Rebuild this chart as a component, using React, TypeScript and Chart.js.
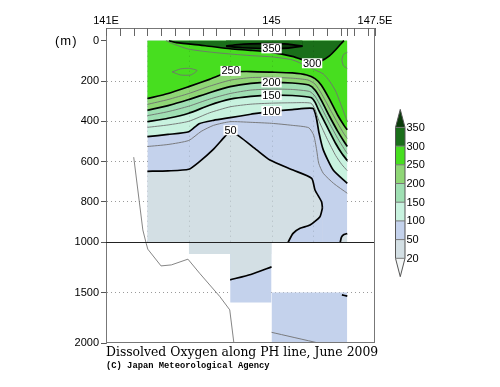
import React, { useEffect, useRef } from 'react';
import { Chart, registerables } from 'chart.js';

Chart.register(...registerables);

type P = [number, number]; // [longitude °E, depth m]

// ---------- axes ----------
const LON_MIN = 141;
const LON_MAX = 147.5;
const xTickLons = [141, 145, 147.5];
const xTickLabels = ['141E', '145', '147.5E'];
const minorTickLons = [
  141, 141.333, 141.667, 142, 142.333, 142.667, 143, 143.333, 143.667, 144, 144.333, 144.667,
  145, 145.333, 145.667, 146, 146.333, 146.667, 146.83, 147, 147.333, 147.5,
];
const depthTicks = [0, 200, 400, 600, 800, 1000, 1500, 2000];
const dottedDepths = [200, 400, 600, 800, 1500];
const DEPTH_TOP = -63;
const DEPTH_BOTTOM = 2000;
const BREAK_DEPTH = 1000;
const stationLons = [142, 143, 144, 145, 146];

// the vertical axis is compressed by half below 1000 m
const T = (d: number) => (d <= BREAK_DEPTH ? d : BREAK_DEPTH + (d - BREAK_DEPTH) / 2);
const Tinv = (v: number) => (v <= BREAK_DEPTH ? v : BREAK_DEPTH + (v - BREAK_DEPTH) * 2);

// ---------- colour scale ----------
const levels = [20, 50, 100, 150, 200, 250, 300, 350];
const bandColors = [
  '#f4f7f7', // < 20
  '#d3dfe4', // 20-50
  '#c4d2ec', // 50-100
  '#c8f2df', // 100-150
  '#9fdfb3', // 150-200
  '#8fd676', // 200-250
  '#47de1f', // 250-300
  '#1a6f1a', // 300-350
  '#0b3b0b', // > 350
];

// ---------- sampled areas ----------
const areaUpper: P[] = [[142, 1000], [146.83, 1000]];
const areaMidBlue: P[] = [[144, 1597], [145, 1597]];
const areaDeepBlue: P[] = [[145, 2000], [146.83, 2000]];
const areaMidGray: P[] = [[143, 1116], [145, 1116]];

// ---------- contours (µmol/kg) ----------
const c50Upper: P[] = [
  [142.0, 648], [142.5, 646], [143.0, 638], [143.26, 600], [143.58, 542], [143.87, 476], [144.0, 450],
  [144.23, 476], [144.64, 542], [144.96, 592], [145.52, 642], [145.97, 683], [146.05, 741], [146.21, 800], [146.23, 830],
];
const c50Lower: P[] = [[145.4, 1000], [145.52, 956], [145.69, 931], [145.93, 915], [146.17, 873], [146.23, 830]];
const c50Corner: P[] = [[146.66, 1000], [146.69, 975], [146.75, 962], [146.83, 957]];
const c50Deep: P[] = [[144, 1373], [144.5, 1320], [145, 1245]];
const c50Edge: P[] = [[146.7, 1522], [146.83, 1535]];
const c75: P[] = [
  [142.0, 525], [142.5, 515], [143.0, 495], [143.3, 450], [143.6, 420], [144.0, 402], [144.5, 405], [145.0, 410],
  [145.5, 420], [145.9, 432], [146.02, 470], [146.09, 542], [146.14, 608], [146.25, 658], [146.5, 708], [146.83, 757],
];
const c75Deep: P[] = [[145, 1894], [146.13, 2000]];
const c100: P[] = [
  [142.0, 476], [142.5, 465], [143.0, 452], [143.25, 412], [143.6, 395], [144.0, 382], [144.5, 365], [145.0, 349],
  [145.5, 342], [146.0, 336], [146.08, 380], [146.15, 460], [146.25, 542], [146.49, 642], [146.83, 708],
];
const c125: P[] = [
  [142.0, 430], [142.5, 418], [143.0, 400], [143.5, 358], [144.0, 328], [144.5, 315], [145.0, 310], [145.5, 308],
  [145.95, 310], [146.05, 340], [146.15, 400], [146.35, 490], [146.55, 570], [146.7, 615], [146.83, 645],
];
const c150: P[] = [
  [142.0, 402], [142.5, 385], [143.0, 360], [143.5, 320], [144.0, 290], [144.5, 276], [145.0, 270], [145.5, 272],
  [145.95, 282], [146.05, 305], [146.15, 350], [146.35, 430], [146.55, 510], [146.7, 560], [146.83, 595],
];
const c175: P[] = [
  [142.0, 372], [142.5, 352], [143.0, 325], [143.5, 290], [144.0, 262], [144.5, 245], [145.0, 240], [145.5, 242],
  [145.92, 252], [146.05, 275], [146.2, 330], [146.4, 410], [146.6, 485], [146.75, 535], [146.83, 560],
];
const c200: P[] = [
  [142.0, 345], [142.5, 322], [143.0, 292], [143.5, 258], [144.0, 228], [144.5, 212], [145.0, 207], [145.5, 210],
  [145.9, 220], [146.05, 245], [146.2, 295], [146.4, 375], [146.6, 450], [146.75, 500], [146.83, 525],
];
const c225: P[] = [
  [142.0, 316], [142.5, 292], [143.0, 262], [143.5, 226], [144.0, 196], [144.5, 183], [145.0, 182], [145.5, 186],
  [145.88, 195], [146.05, 215], [146.2, 260], [146.4, 335], [146.6, 410], [146.75, 462], [146.83, 485],
];
const c250: P[] = [
  [142.0, 287], [142.5, 262], [143.0, 228], [143.5, 192], [143.8, 168], [144.0, 155], [144.5, 153], [145.0, 156],
  [145.5, 160], [145.85, 170], [146.05, 188], [146.2, 220], [146.4, 290], [146.6, 370], [146.75, 420], [146.83, 442],
];
const c275: P[] = [
  [142.45, 0], [142.65, 18], [143.0, 42], [143.5, 56], [144.0, 66], [144.5, 74], [145.0, 80], [145.5, 95],
  [145.85, 125], [146.05, 145], [146.25, 165], [146.4, 200], [146.55, 250], [146.7, 330], [146.83, 400],
];
const c275Ring: P[] = [[142.6, 155], [142.8, 140], [143.0, 137], [143.2, 148], [143.05, 170], [142.8, 170], [142.6, 155]];
const c275EdgeRing: P[] = [[146.83, 58], [146.74, 68], [146.7, 95], [146.74, 125], [146.83, 138]];
const c300: P[] = [
  [142.52, 0], [142.7, 10], [143.4, 25], [144.0, 40], [144.5, 48], [145.0, 58], [145.5, 78], [145.8, 98],
  [145.98, 110], [146.2, 100], [146.4, 75], [146.55, 45], [146.68, 15], [146.75, 0],
];
const c350Upper: P[] = [[143.9, 27], [144.2, 19], [144.8, 15], [145.4, 17], [145.75, 27]];
const c350Lower: P[] = [[143.9, 27], [144.3, 35], [145.0, 39], [145.4, 37], [145.75, 27]];

// sea-bottom line
const topography: P[] = [
  [141.67, 578], [141.89, 939], [141.97, 1010], [142.01, 1069], [142.33, 1235], [142.58, 1225],
  [142.98, 1168], [143.26, 1307], [143.75, 1539], [143.99, 1671], [144.09, 2000],
];

// contour labels
const labelTexts = ['350', '300', '250', '200', '150', '100', '50'];
const labelLons = [145.0, 145.98, 144.01, 145.0, 145.0, 145.0, 144.01];
const labelDepths = [38, 112, 150, 207, 270, 349, 444];

const FONT = '"Liberation Sans", Arial, Helvetica, sans-serif';

type Layer = { pts: P[]; fillTo?: number; color?: string; line?: 'thick' | 'thin' | 'topo'; tension?: number };

const layers: Layer[] = [
  { pts: areaUpper, fillTo: 0, color: bandColors[2] },
  { pts: areaMidBlue, fillTo: 1000, color: bandColors[2] },
  { pts: areaDeepBlue, fillTo: 1500, color: bandColors[2] },
  { pts: areaMidGray, fillTo: 1000, color: bandColors[1] },
  { pts: c50Upper, fillTo: 1000, color: bandColors[1], line: 'thick' },
  { pts: c50Lower, fillTo: 1000, color: bandColors[2], line: 'thick' },
  { pts: c50Corner, fillTo: 1000, color: bandColors[1], line: 'thick' },
  { pts: c50Deep, fillTo: 1000, color: bandColors[1], line: 'thick' },
  { pts: c100, fillTo: 0, color: bandColors[3], line: 'thick' },
  { pts: c150, fillTo: 0, color: bandColors[4], line: 'thick' },
  { pts: c200, fillTo: 0, color: bandColors[5], line: 'thick' },
  { pts: c250, fillTo: 0, color: bandColors[6], line: 'thick' },
  { pts: c300, fillTo: 0, color: bandColors[7], line: 'thick' },
  { pts: c350Lower, fillTo: 0, color: bandColors[8], line: 'thick' },
  { pts: c350Upper, fillTo: 0, color: bandColors[7], line: 'thick' },
  { pts: c75, line: 'thin' },
  { pts: c125, line: 'thin' },
  { pts: c175, line: 'thin' },
  { pts: c225, line: 'thin' },
  { pts: c275, line: 'thin' },
  { pts: c275Ring, line: 'thin' },
  { pts: c275EdgeRing, line: 'thin' },
  { pts: c75Deep, line: 'thin' },
  { pts: c50Edge, line: 'thick' },
  { pts: topography, line: 'topo', tension: 0 },
];

const toXY = (pts: P[]) => pts.map(([lon, d]) => ({ x: lon, y: T(d) }));

const overlay = {
  id: 'overlay',
  afterDatasetsDraw(chart: any) {
    const { ctx, chartArea: a, scales } = chart;
    const xs = scales.x;
    const ys = scales.y;
    const px = (lon: number) => xs.getPixelForValue(lon);
    const py = (d: number) => ys.getPixelForValue(T(d));
    ctx.save();

    // station lines (faint dotted)
    ctx.lineWidth = 1;
    ctx.setLineDash([1, 4]);
    ctx.strokeStyle = 'rgba(0,0,0,0.16)';
    stationLons.forEach((lon) => {
      const X = Math.round(px(lon)) + 0.5;
      ctx.beginPath();
      ctx.moveTo(X, py(0));
      ctx.lineTo(X, py(BREAK_DEPTH));
      ctx.stroke();
    });
    ctx.setLineDash([]);

    // axis break line at 1000 m
    ctx.strokeStyle = '#222';
    const yb = Math.round(py(BREAK_DEPTH)) + 0.5;
    ctx.beginPath();
    ctx.moveTo(a.left, yb);
    ctx.lineTo(a.right, yb);
    ctx.stroke();

    // frame (right, bottom)
    ctx.strokeStyle = '#777';
    ctx.beginPath();
    ctx.moveTo(Math.round(a.right) - 0.5, a.top);
    ctx.lineTo(Math.round(a.right) - 0.5, a.bottom);
    ctx.moveTo(a.left, Math.round(py(DEPTH_BOTTOM)) - 0.5);
    ctx.lineTo(a.right, Math.round(py(DEPTH_BOTTOM)) - 0.5);
    ctx.stroke();

    // inward ticks of top axis
    ctx.strokeStyle = '#666';
    minorTickLons.forEach((lon) => {
      const X = Math.round(px(lon)) + 0.5;
      ctx.beginPath();
      ctx.moveTo(X, a.top);
      ctx.lineTo(X, a.top + 8);
      ctx.stroke();
    });

    // contour labels
    ctx.font = `11px ${FONT}`;
    ctx.textAlign = 'center';
    ctx.textBaseline = 'middle';
    labelTexts.forEach((t, i) => {
      const cx = px(labelLons[i]);
      const cy = py(labelDepths[i]);
      const w = ctx.measureText(t).width + 2;
      ctx.fillStyle = '#fff';
      ctx.fillRect(cx - w / 2, cy - 5, w, 10);
      ctx.fillStyle = '#000';
      ctx.fillText(t, cx, cy + 0.5);
    });

    // colour bar
    const bx = a.right + 20.5;
    const bw = 9.5;
    const step = 18.7;
    const y20 = a.top + 230.3;
    const yTop = y20 - step * (levels.length - 1);
    for (let i = 0; i < levels.length - 1; i++) {
      ctx.fillStyle = bandColors[i + 1];
      ctx.fillRect(bx, y20 - step * (i + 1), bw, step);
    }
    ctx.fillStyle = bandColors[bandColors.length - 1];
    ctx.beginPath();
    ctx.moveTo(bx, yTop);
    ctx.lineTo(bx + bw / 2, yTop - 18);
    ctx.lineTo(bx + bw, yTop);
    ctx.closePath();
    ctx.fill();
    ctx.fillStyle = bandColors[0];
    ctx.beginPath();
    ctx.moveTo(bx, y20);
    ctx.lineTo(bx + bw / 2, y20 + 18.4);
    ctx.lineTo(bx + bw, y20);
    ctx.closePath();
    ctx.fill();
    ctx.strokeStyle = '#555';
    ctx.lineWidth = 1;
    ctx.beginPath();
    ctx.moveTo(bx, yTop);
    ctx.lineTo(bx + bw / 2, yTop - 18);
    ctx.lineTo(bx + bw, yTop);
    ctx.lineTo(bx + bw, y20);
    ctx.lineTo(bx + bw / 2, y20 + 18.4);
    ctx.lineTo(bx, y20);
    ctx.closePath();
    ctx.stroke();
    ctx.strokeStyle = '#777';
    levels.forEach((_, i) => {
      const Y = y20 - step * i;
      ctx.beginPath();
      ctx.moveTo(bx, Y);
      ctx.lineTo(bx + bw, Y);
      ctx.stroke();
    });
    ctx.fillStyle = '#000';
    ctx.textAlign = 'left';
    ctx.font = `11px ${FONT}`;
    levels.forEach((lv, i) => {
      ctx.fillText(String(lv), bx + 11, y20 - step * i + 0.5);
    });

    // unit
    ctx.textAlign = 'left';
    ctx.font = `13px ${FONT}`;
    (ctx as any).letterSpacing = '1px';
    ctx.fillText('(m)', 55, py(0) + 0.5);
    ctx.restore();
  },
};

export default function App() {
  const ref = useRef<HTMLCanvasElement | null>(null);

  useEffect(() => {
    if (!ref.current) return;
    const datasets = layers.map((L, i) => ({
      data: toXY(L.pts),
      order: layers.length - i,
      pointRadius: 0,
      pointHoverRadius: 0,
      tension: L.tension ?? (L.line ? 0.2 : 0),
      borderColor: L.line === 'thick' ? '#000' : L.line === 'thin' ? '#707070' : L.line === 'topo' ? '#777' : 'rgba(0,0,0,0)',
      borderWidth: L.line === 'thick' ? 1.7 : L.line ? 0.9 : 0.01,
      backgroundColor: L.color ?? 'rgba(0,0,0,0)',
      fill: L.fillTo !== undefined ? { value: T(L.fillTo) } : false,
    }));

    const chart = new Chart(ref.current, {
      type: 'line',
      data: { datasets },
      plugins: [overlay],
      options: {
        responsive: false,
        animation: false,
        events: [],
        layout: { padding: { left: 0, top: 0, right: 125, bottom: 44 } },
        plugins: { legend: { display: false }, tooltip: { enabled: false }, title: { display: false } },
        scales: {
          x: {
            type: 'linear',
            position: 'top',
            min: LON_MIN,
            max: LON_MAX,
            afterFit: (s: any) => {
              s.height = 28;
            },
            afterBuildTicks: (s: any) => {
              s.ticks = xTickLons.map((v) => ({ value: v }));
            },
            grid: { display: false, drawTicks: false },
            border: { display: true, color: '#777', width: 1 },
            ticks: {
              autoSkip: false,
              maxRotation: 0,
              padding: 0,
              color: '#000',
              font: { family: FONT, size: 11 },
              callback: (v: any) => xTickLabels[xTickLons.indexOf(Number(v))] ?? '',
            },
          },
          y: {
            type: 'linear',
            reverse: true,
            min: DEPTH_TOP,
            max: T(DEPTH_BOTTOM),
            afterFit: (s: any) => {
              s.width = 106;
            },
            afterBuildTicks: (s: any) => {
              s.ticks = depthTicks.map((d) => ({ value: T(d) }));
            },
            grid: {
              drawTicks: true,
              tickLength: 5,
              tickColor: '#555',
              tickWidth: 1,
              lineWidth: 1,
              color: (c: any) => {
                const v = c.tick ? c.tick.value : NaN;
                return dottedDepths.map(T).includes(v) ? '#9a9a9a' : 'rgba(0,0,0,0)';
              },
            },
            border: { display: true, color: '#777', width: 1, dash: [1, 3] },
            ticks: {
              autoSkip: false,
              padding: 2,
              color: '#000',
              font: { family: FONT, size: 11 },
              callback: (v: any) => String(Math.round(Tinv(Number(v)))),
            },
          },
        },
      },
    });
    return () => chart.destroy();
  }, []);

  return (
    <div style={{ position: 'absolute', left: 0, top: 0, width: 500, height: 387, background: '#fff' }}>
      <canvas ref={ref} width={500} height={387} style={{ display: 'block', width: 500, height: 387 }} />
      <div
        style={{
          position: 'absolute',
          left: 106,
          top: 345,
          font: '12.4px "DejaVu Serif", serif',
          lineHeight: '14px',
          whiteSpace: 'nowrap',
          color: '#000',
        }}
      >
        Dissolved Oxygen along PH line, June 2009
      </div>
      <div
        style={{
          position: 'absolute',
          left: 106,
          top: 361,
          font: 'bold 8.8px "Liberation Mono", "Courier New", monospace',
          lineHeight: '10px',
          whiteSpace: 'nowrap',
          color: '#000',
        }}
      >
        (C) Japan Meteorological Agency
      </div>
    </div>
  );
}
